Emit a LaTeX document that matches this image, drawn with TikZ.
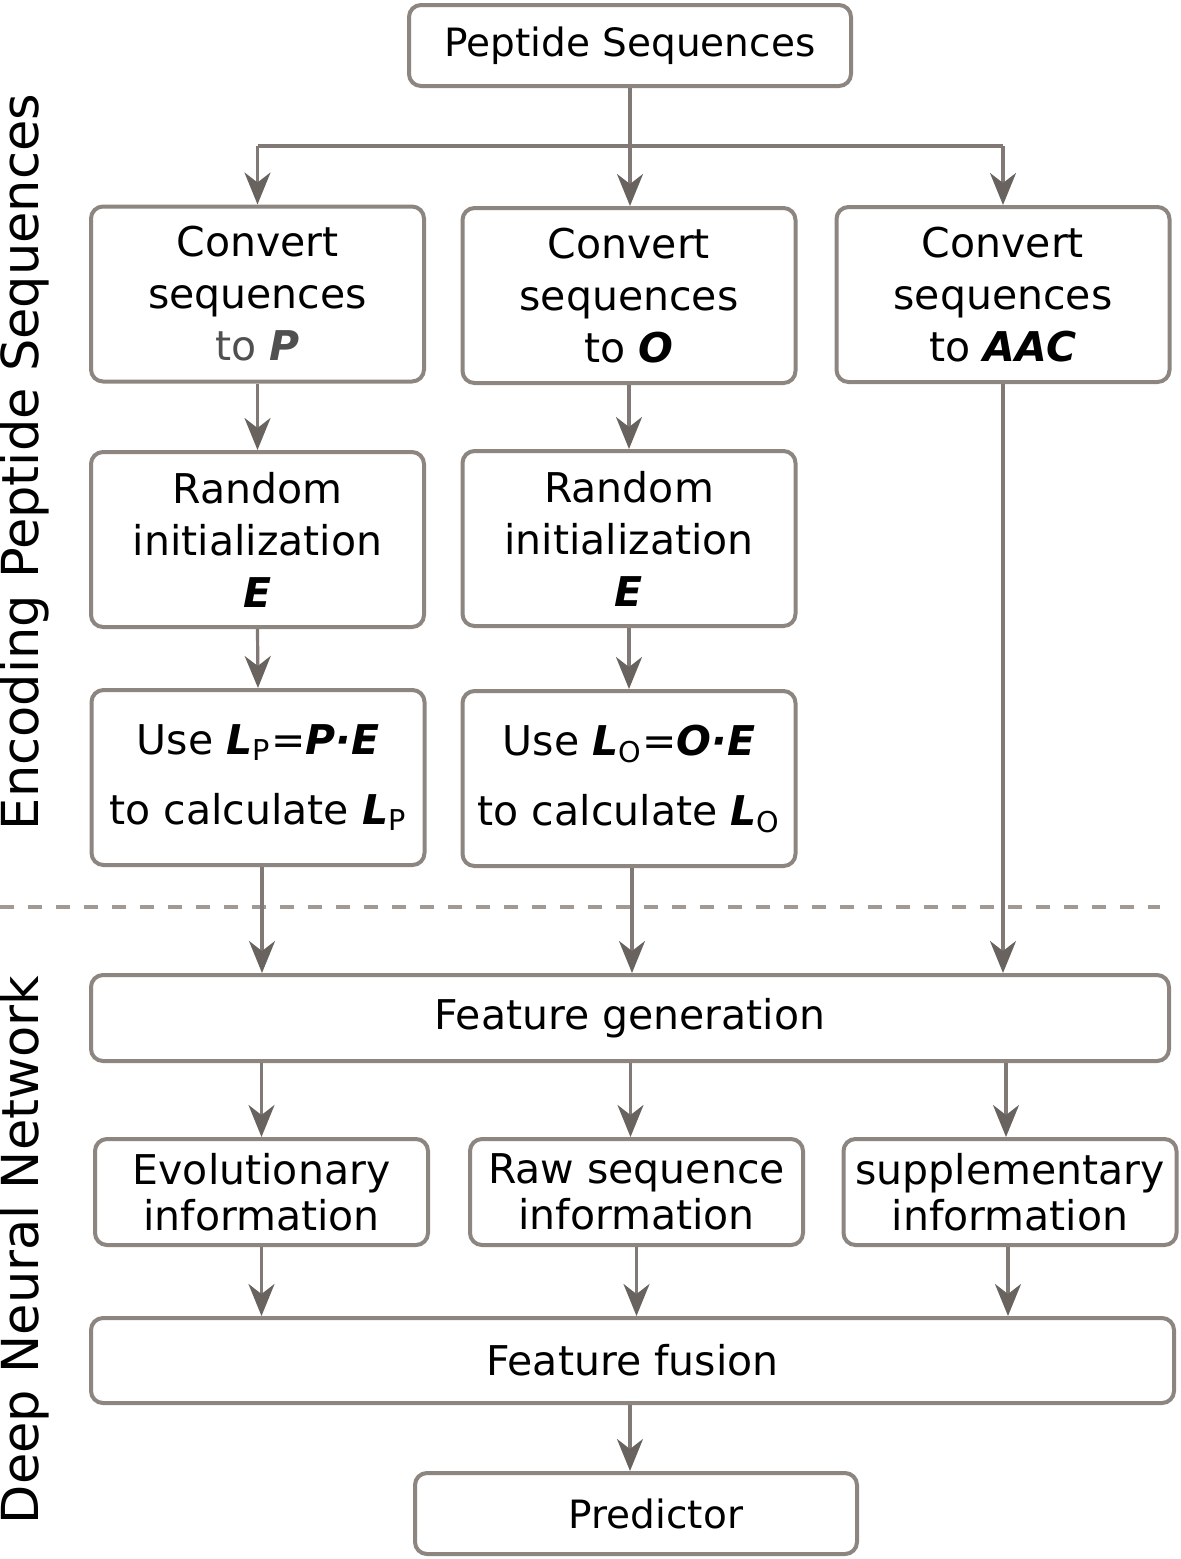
\documentclass[tikz,border=0pt]{standalone}
\usepackage{fontspec}
\setmainfont{DejaVu Sans}
\usetikzlibrary{arrows.meta}

\definecolor{boxgray}{RGB}{140,133,128}
\definecolor{linegray}{RGB}{128,121,117}
\definecolor{tipgray}{RGB}{105,99,95}
\definecolor{dashgray}{RGB}{160,153,148}
\definecolor{togray}{RGB}{80,80,80}
\newcommand{\bfit}[1]{\textbf{\textit{#1}}}

\tikzset{
	stepbox/.style={draw=boxgray, line width=2pt, rounded corners=6pt, fill=white, align=center, inner sep=0pt,
		minimum width=166.5pt, minimum height=87.5pt, font=\fontsize{20.5}{26}\selectfont},
	endbox/.style={stepbox, minimum width=221pt, minimum height=40.5pt, font=\fontsize{19.5}{24}\selectfont},
	widebox/.style={stepbox, minimum width=539pt, minimum height=43pt},
	infobox/.style={stepbox, minimum height=53pt, font=\fontsize{20.5}{23}\selectfont},
	flow/.style={draw=linegray, line width=1.6pt, -{Stealth[length=16pt, width=13pt, inset=5pt, color=tipgray]}},
	side/.style={rotate=90, font=\fontsize{25.5}{30}\selectfont}
}

\begin{document}
\begin{tikzpicture}[x=0.5pt, y=-0.5pt]
			\useasboundingbox (0,0) rectangle (1181,1559);

			% encoding part
			\node[endbox] (pep) at (630, 45.5) {Peptide Sequences};
			\node[stepbox] (cp) at (257.5, 294) {Convert\\sequences\\{\color{togray}to \bfit{P}}};
			\node[stepbox] (co) at (629, 295.5) {Convert\\sequences\\to \bfit{O}};
			\node[stepbox] (ca) at (1003, 294.5) {Convert\\sequences\\to \bfit{AAC}};
			\node[stepbox] (rp) at (257.5, 539.5) {Random\\initialization\\\bfit{E}};
			\node[stepbox] (ro) at (629, 538.5) {Random\\initialization\\\bfit{E}};
			\node[stepbox] (up) at (258, 777.5) {Use \bfit{L}\textsubscript{P}=\bfit{P·E}\\[9pt]to calculate \bfit{L}\textsubscript{P}};
			\node[stepbox] (uo) at (629, 778.5) {Use \bfit{L}\textsubscript{O}=\bfit{O·E}\\[9pt]to calculate \bfit{L}\textsubscript{O}};

			% network part
			\node[widebox] (fg) at (630, 1018) {Feature generation};
			\node[infobox] (ev) at (261.5, 1192) {Evolutionary\\information};
			\node[infobox] (raw) at (636.5, 1192) {Raw sequence\\information};
			\node[infobox] (sup) at (1010, 1192) {supplementary\\information};
			\node[widebox, minimum width=541.5pt, minimum height=42.5pt] (ff) at (632.5, 1360.5) {Feature fusion};
			\node[endbox] (pred) at (636, 1513.5) {\hspace*{20pt}Predictor};

			\node[side] (enc) at (24, 462) {Encoding Peptide Sequences};
			\node[side] (dnn) at (24, 1250) {Deep Neural Network};

			\coordinate (split) at (630, 146);
			\coordinate (dashL) at (0, 907);
			\coordinate (dashR) at (1160, 907);
			\draw[dashgray, line width=2pt, dash pattern=on 7pt off 7pt] (dashL) -- (dashR);

			\draw[linegray, line width=1.6pt] (split -| cp.north) -- (split -| ca.north);
			\path (pep.south) edge[flow] (pep.south |- co.north);
			\path (split -| cp.north) edge[flow] (cp.north);
			\path (split -| ca.north) edge[flow] (ca.north);
			\path (cp.south) edge[flow] (rp.north);
			\path (co.south) edge[flow] (ro.north);
			\path (rp.south) edge[flow] (up.north);
			\path (ro.south) edge[flow] (uo.north);
			\path ([xshift=2pt]up.south) edge[flow] ([xshift=2pt]up.south |- fg.north);
			\path ([xshift=1.5pt]uo.south) edge[flow] ([xshift=1.5pt]uo.south |- fg.north);
			\path (ca.south) edge[flow] (ca.south |- fg.north);
			\path (fg.south -| ev.north) edge[flow] (ev.north);
			\path ([xshift=-3pt]fg.south -| raw.north) edge[flow] ([xshift=-3pt]raw.north);
			\path ([xshift=-2pt]fg.south -| sup.north) edge[flow] ([xshift=-2pt]sup.north);
			\path (ev.south) edge[flow] (ev.south |- ff.north);
			\path (raw.south) edge[flow] (raw.south |- ff.north);
			\path ([xshift=-1pt]sup.south) edge[flow] ([xshift=-1pt]sup.south |- ff.north);
			\path ([xshift=-3pt]pred.north |- ff.south) edge[flow] ([xshift=-3pt]pred.north);

		\end{tikzpicture}
\end{document}
